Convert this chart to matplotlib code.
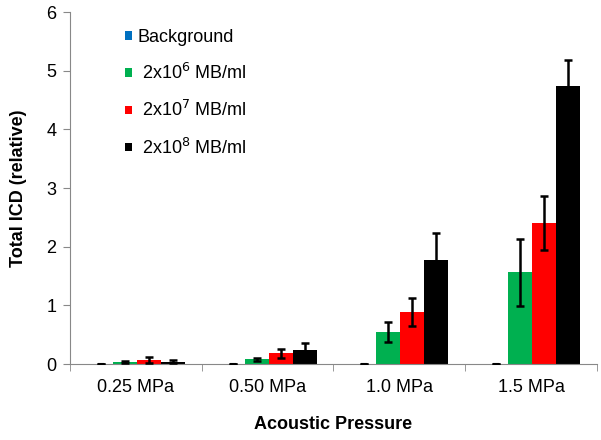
import numpy as np
import matplotlib.pyplot as plt

plt.rcParams['font.family'] = ['Liberation Sans', 'DejaVu Sans']

pressures = ['0.25 MPa', '0.50 MPa', '1.0 MPa', '1.5 MPa']
series = ['Background', ' 2x10$^{6}$ MB/ml', ' 2x10$^{7}$ MB/ml', ' 2x10$^{8}$ MB/ml']
colors = ['#0070C0', '#00B050', '#FF0000', '#000000']

background = [0.005, 0.005, 0.005, 0.005]
background_err = [0.0, 0.0, 0.0, 0.0]
mb_1e6 = [0.03, 0.08, 0.55, 1.56]
mb_1e6_err = [0.02, 0.03, 0.17, 0.57]
mb_1e7 = [0.075, 0.18, 0.89, 2.40]
mb_1e7_err = [0.05, 0.07, 0.24, 0.46]
mb_1e8 = [0.04, 0.24, 1.78, 4.74]
mb_1e8_err = [0.02, 0.12, 0.45, 0.44]

values = [background, mb_1e6, mb_1e7, mb_1e8]
errors = [background_err, mb_1e6_err, mb_1e7_err, mb_1e8_err]

fig = plt.figure(figsize=(6.01, 4.40), dpi=100)
ax = fig.add_axes([0.1165, 0.1727, 0.8765, 0.8])

x = np.arange(len(pressures))
w = 0.182
for i, (vals, errs, c, name) in enumerate(zip(values, errors, colors, series)):
    pos = x + (i - 1.5) * w + 0.008
    ax.bar(pos, vals, w, color=c, label=name, zorder=2)
    ax.errorbar(pos, vals, yerr=errs, fmt='none', ecolor='black',
                elinewidth=1.8, capsize=3, capthick=1.8, zorder=3)
    # background bars are so small they show only as a dash
    if i == 0:
        ax.plot(pos, vals, linestyle='none', marker='_', color='black',
                markersize=5, markeredgewidth=1.5, zorder=3)

ax.set_xlim(-0.5, len(pressures) - 0.5)
ax.set_ylim(0, 6)
ax.set_yticks(range(7))
ax.set_xticks(x)
ax.set_xticklabels(pressures)
ax.set_xticks(np.arange(len(pressures) + 1) - 0.5, minor=True)
ax.tick_params(axis='x', which='major', length=0, pad=11, labelsize=13)
ax.tick_params(axis='x', which='minor', length=5, color='#888888')
ax.tick_params(axis='y', length=5, color='#888888', labelsize=13, pad=5)

for s in ['top', 'right']:
    ax.spines[s].set_visible(False)
for s in ['left', 'bottom']:
    ax.spines[s].set_color('#888888')

ax.set_xlabel('Acoustic Pressure', fontsize=13, fontweight='bold', labelpad=14)
ax.set_ylabel('Total ICD (relative)', fontsize=13, fontweight='bold', labelpad=14)

ax.legend(loc='upper left', bbox_to_anchor=(0.104, 0.952), frameon=False,
          fontsize=13, handlelength=0.4, handleheight=0.35, handletextpad=0.3,
          labelspacing=0.95, borderpad=0, borderaxespad=0)

fig.savefig('out.png', dpi=100)
